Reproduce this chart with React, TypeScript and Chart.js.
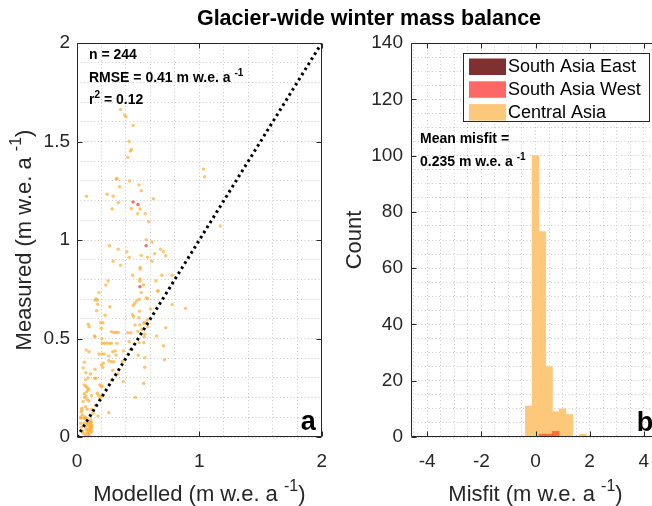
import { useEffect, useRef } from 'react';
import { Chart, registerables } from 'chart.js';

Chart.register(...registerables);

// Winter mass balance per glacier (m w.e. a^-1): modelled vs measured
const caModelled = [
  0.356, 0.39, 0.40, 0.458, 0.426, 0.444, 0.436, 0.415, 0.321, 0.327,
  0.428, 0.348, 0.506, 0.525, 0.078, 0.246, 0.295, 0.624, 0.337, 0.444,
  0.287, 0.516, 1.034, 1.042, 0.495, 0.557, 0.586, 1.17, 0.565, 0.613,
  0.265, 0.337, 0.683, 0.707, 0.635, 0.407, 0.725, 0.525, 0.426, 0.576,
  0.613, 0.295, 0.356, 0.516, 0.516, 0.693, 0.777, 0.455, 0.514, 0.514,
  0.254, 0.645, 0.235, 0.543, 0.525, 0.664, 0.659, 0.179, 0.158, 0.576,
  0.147, 0.166, 0.508, 0.487, 0.471, 0.565, 0.777, 0.886, 0.169, 0.268,
  0.46, 0.60, 0.161, 0.511, 0.23, 0.455, 0.463, 0.506, 0.552, 0.576,
  0.193, 0.211, 0.091, 0.099, 0.474, 0.514, 0.549, 0.578, 0.198, 0.725,
  0.281, 0.30, 0.319, 0.337, 0.415, 0.439, 0.498, 0.53, 0.554, 0.549,
  0.651, 0.142, 0.147, 0.203, 0.206, 0.225, 0.243, 0.265, 0.281, 0.327,
  0.426, 0.508, 0.546, 0.707, 0.075, 0.099, 0.179, 0.203, 0.222, 0.292,
  0.313, 0.378, 0.436, 0.259, 0.319, 0.50, 0.554, 0.715, 0.259, 0.279,
  0.30, 0.372, 0.211, 0.554, 0.147, 0.292, 0.072, 0.11, 0.335, 0.145,
  0.155, 0.281, 0.059, 0.072, 0.08, 0.094, 0.546, 0.206, 0.08, 0.091,
  0.062, 0.072, 0.118, 0.201, 0.476, 0.083, 0.096, 0.04, 0.035, 0.043,
  0.03, 0.07, 0.083, 0.064, 0.072, 0.083, 0.171, 0.15, 0.11, 0.11,
  0.11, 0.11, 0.11, 0.11, 0.118, 0.118, 0.118, 0.083, 0.083, 0.083,
  0.083, 0.03, 0.035, 0.046, 0.05, 0.002, 0.26, 0.378, 0.04, 0.054,
  0.067, 0.032, 0.059, 0.067, 0.075, 0.102, 0.102, 0.102, 0.102, 0.12,
  0.12, 0.05, 0.06, 0.09, 0.07, 0.12, 0.13, 0.05, 0.06, 0.20,
  0.215, 0.187, 0.20, 0.166, 0.174, 0.187, 0.09, 0.10, 0.095, 0.065,
];
const caMeasured = [
  1.663, 1.634, 1.626, 1.582, 1.50, 1.46, 1.452, 1.42, 1.311, 1.311,
  1.30, 1.27, 1.28, 1.25, 1.222, 1.232, 1.222, 1.21, 1.19, 1.16,
  1.157, 1.157, 1.36, 1.321, 1.133, 1.133, 1.093, 1.071, 1.002, 0.99,
  0.971, 0.953, 0.953, 0.94, 0.93, 0.94, 0.92, 0.922, 0.912, 0.912,
  0.892, 0.892, 0.872, 0.861, 0.853, 0.821, 0.821, 0.821, 0.802, 0.792,
  0.792, 0.792, 0.772, 0.772, 0.733, 0.741, 0.741, 0.733, 0.702, 0.702,
  0.695, 0.694, 0.699, 0.69, 0.679, 0.706, 0.672, 0.653, 0.674, 0.661,
  0.668, 0.65, 0.641, 0.638, 0.618, 0.621, 0.611, 0.606, 0.582, 0.595,
  0.58, 0.58, 0.572, 0.56, 0.569, 0.569, 0.577, 0.56, 0.552, 0.555,
  0.535, 0.531, 0.531, 0.531, 0.529, 0.529, 0.536, 0.547, 0.523, 0.509,
  0.513, 0.513, 0.509, 0.499, 0.476, 0.476, 0.476, 0.476, 0.476, 0.476,
  0.484, 0.479, 0.479, 0.463, 0.442, 0.433, 0.421, 0.421, 0.421, 0.433,
  0.437, 0.437, 0.445, 0.411, 0.416, 0.415, 0.403, 0.392, 0.387, 0.382,
  0.382, 0.384, 0.354, 0.354, 0.344, 0.339, 0.326, 0.32, 0.32, 0.298,
  0.298, 0.289, 0.264, 0.259, 0.252, 0.245, 0.273, 0.259, 0.23, 0.239,
  0.201, 0.208, 0.21, 0.208, 0.201, 0.191, 0.183, 0.146, 0.128, 0.112,
  0.10, 0.154, 0.141, 0.103, 0.096, 0.091, 0.107, 0.162, 0.086, 0.076,
  0.066, 0.056, 0.046, 0.036, 0.078, 0.061, 0.044, 0.071, 0.061, 0.04,
  0.02, 0.07, 0.05, 0.03, 0.02, 0.007, 0.123, 0.281, 0.137, 0.095,
  0.095, 0.095, 0.07, 0.052, 0.036, 0.07, 0.052, 0.036, 0.019, 0.052,
  0.027, 0.35, 0.38, 0.30, 0.29, 0.14, 0.12, 0.18, 0.22, 0.365,
  0.374, 0.264, 0.255, 0.222, 0.213, 0.201, 0.01, 0.005, 0.03, 0.01,
];
const sawModelled = [0.458, 0.498, 0.565, 0.514];
const sawMeasured = [1.193, 1.18, 0.971, 0.763];
const identityLine = [0, 2];

// Misfit histogram: bin centres (m w.e. a^-1) and counts per region
const misfitBins = [-0.25, 0, 0.25, 0.5, 0.75, 1, 1.25, 1.5, 1.75];
const caCounts = [11, 100, 73, 25, 9, 10, 8, 0, 1];
const sawBins = [0.25, 0.5, 0.75];
const sawCounts = [1, 1, 2];

// Axis ticks
const modelledTicks = [0, 1, 2];
const measuredTicks = [0, 0.5, 1, 1.5, 2];
const misfitTicks = [-4, -2, 0, 2, 4];
const countTicks = [0, 20, 40, 60, 80, 100, 120, 140];

const legendLabels = ['South Asia East', 'South Asia West', 'Central Asia'];
const legendColors = ['rgb(128,48,48)', 'rgb(255,102,102)', 'rgb(254,200,122)'];

const nGlaciers = 244;
const rmse = 0.41;
const r2 = 0.12;
const meanMisfit = 0.235;

const FONT = '"Liberation Sans", Arial, Helvetica, sans-serif';
const INK = '#262626';
const GRID = 'rgba(38,38,38,0.24)';

type Seg = { t: string; sup?: boolean };

function drawRich(
  ctx: CanvasRenderingContext2D,
  segs: Seg[],
  x: number,
  y: number,
  size: number,
  weight: string,
  align: 'left' | 'center',
  color: string,
) {
  const supSize = Math.round(size * 0.72);
  const fontOf = (s: Seg) => `${weight} ${s.sup ? supSize : size}px ${FONT}`;
  let total = 0;
  for (const s of segs) {
    ctx.font = fontOf(s);
    total += ctx.measureText(s.t).width;
  }
  let cx = align === 'center' ? x - total / 2 : x;
  ctx.fillStyle = color;
  ctx.textAlign = 'left';
  ctx.textBaseline = 'alphabetic';
  for (const s of segs) {
    ctx.font = fontOf(s);
    ctx.fillText(s.t, cx, s.sup ? y - size * 0.45 : y);
    cx += ctx.measureText(s.t).width;
  }
}

function drawFrame(chart: Chart, xMajor: number[], yMajor: number[]) {
  const { ctx, chartArea: a } = chart;
  const sx = chart.scales.x;
  const sy = chart.scales.y;
  const L = Math.round(a.left) + 0.5;
  const R = Math.round(a.right) - 0.5;
  const T = Math.round(a.top) + 0.5;
  const B = Math.round(a.bottom) - 0.5;
  const tick = 5;
  ctx.save();
  ctx.strokeStyle = INK;
  ctx.lineWidth = 1;
  ctx.beginPath();
  ctx.rect(L, T, R - L, B - T);
  for (const v of xMajor) {
    const px = Math.round(sx.getPixelForValue(v)) + 0.5;
    ctx.moveTo(px, B);
    ctx.lineTo(px, B - tick);
    ctx.moveTo(px, T);
    ctx.lineTo(px, T + tick);
  }
  for (const v of yMajor) {
    const py = Math.round(sy.getPixelForValue(v)) + 0.5;
    ctx.moveTo(L, py);
    ctx.lineTo(L + tick, py);
    ctx.moveTo(R, py);
    ctx.lineTo(R - tick, py);
  }
  ctx.stroke();
  ctx.restore();
}

function minorTicks(min: number, max: number, step: number) {
  const out: { value: number }[] = [];
  const n = Math.round((max - min) / step);
  for (let i = 0; i <= n; i++) out.push({ value: Math.round((min + i * step) * 1e9) / 1e9 });
  return out;
}

function majorLabel(majors: number[]) {
  return (v: number | string) => {
    const num = Number(v);
    const hit = majors.find((m) => Math.abs(m - num) < 1e-6);
    return hit === undefined ? '' : String(hit);
  };
}

const tickFont = { family: FONT, size: 19 };

const leftDecor = {
  id: 'leftDecor',
  afterDraw(chart: Chart) {
    const { ctx, chartArea: a } = chart;
    drawFrame(chart, modelledTicks, measuredTicks);
    ctx.save();
    const tx = a.left + 12;
    drawRich(ctx, [{ t: `n = ${nGlaciers}` }], tx, 59, 14, 'bold', 'left', '#000');
    drawRich(ctx, [{ t: `RMSE = ${rmse.toFixed(2)} m w.e. a ` }, { t: '-1', sup: true }], tx, 82, 14, 'bold', 'left', '#000');
    drawRich(ctx, [{ t: 'r' }, { t: '2', sup: true }, { t: ` = ${r2.toFixed(2)}` }], tx, 104, 14, 'bold', 'left', '#000');
    drawRich(ctx, [{ t: 'a' }], a.right - 21, 430, 27, 'bold', 'left', '#000');
    drawRich(
      ctx,
      [{ t: 'Modelled (m w.e. a ' }, { t: '-1', sup: true }, { t: ')' }],
      (a.left + a.right) / 2, 501, 22, 'normal', 'center', INK,
    );
    ctx.translate(31, (a.top + a.bottom) / 2);
    ctx.rotate(-Math.PI / 2);
    drawRich(
      ctx,
      [{ t: 'Measured (m w.e. a ' }, { t: '-1', sup: true }, { t: ')' }],
      0, 0, 22, 'normal', 'center', INK,
    );
    ctx.restore();
  },
};

const rightDecor = {
  id: 'rightDecor',
  afterDraw(chart: Chart) {
    const { ctx, chartArea: a } = chart;
    drawFrame(chart, misfitTicks, countTicks);
    ctx.save();
    // legend
    const bx = a.left + 52;
    const by = a.top + 10;
    ctx.fillStyle = '#fff';
    ctx.fillRect(bx, by, 186, 68);
    ctx.strokeStyle = INK;
    ctx.lineWidth = 1;
    ctx.strokeRect(bx + 0.5, by + 0.5, 186, 68);
    legendLabels.forEach((label, i) => {
      const cy = by + 13.5 + i * 22.8;
      ctx.fillStyle = legendColors[i];
      ctx.fillRect(bx + 6, cy - 8, 37, 16.5);
      ctx.fillStyle = '#000';
      ctx.font = `18px ${FONT}`;
      ctx.textAlign = 'left';
      ctx.textBaseline = 'middle';
      ctx.fillText(label, bx + 45, cy + 1);
    });
    const tx = a.left + 9;
    drawRich(ctx, [{ t: 'Mean misfit =' }], tx, 143, 14, 'bold', 'left', '#000');
    drawRich(ctx, [{ t: `${meanMisfit.toFixed(3)} m w.e. a ` }, { t: '-1', sup: true }], tx, 166, 14, 'bold', 'left', '#000');
    const sx = chart.scales.x;
    drawRich(ctx, [{ t: 'b' }], sx.getPixelForValue(3.74), 431, 27, 'bold', 'left', '#000');
    drawRich(
      ctx,
      [{ t: 'Misfit (m w.e. a ' }, { t: '-1', sup: true }, { t: ')' }],
      sx.getPixelForValue(0), 501, 22, 'normal', 'center', INK,
    );
    ctx.translate(21, (a.top + a.bottom) / 2);
    ctx.rotate(-Math.PI / 2);
    drawRich(ctx, [{ t: 'Count' }], 0, 0, 22, 'normal', 'center', INK);
    ctx.restore();
  },
};

export default function App() {
  const leftRef = useRef<HTMLCanvasElement>(null);
  const rightRef = useRef<HTMLCanvasElement>(null);

  useEffect(() => {
    const gridBase = { color: GRID, lineWidth: 1, drawTicks: false };
    const borderBase = { display: false, dash: [1, 2.5] };

    const left = new Chart(leftRef.current!, {
      type: 'scatter',
      data: {
        datasets: [
          {
            type: 'line',
            label: '1:1',
            data: identityLine.map((v) => ({ x: v, y: v })),
            borderColor: '#000',
            borderWidth: 3,
            borderDash: [2.6, 3.4],
            pointRadius: 0,
            fill: false,
            order: 0,
          },
          {
            label: 'South Asia West',
            data: sawModelled.map((x, i) => ({ x, y: sawMeasured[i] })),
            backgroundColor: 'rgba(245,70,70,0.8)',
            borderWidth: 0,
            pointRadius: 1.7,
            order: 1,
          },
          {
            label: 'Central Asia',
            data: caModelled.map((x, i) => ({ x, y: caMeasured[i] })),
            backgroundColor: 'rgba(255,172,50,0.7)',
            borderWidth: 0,
            pointRadius: 1.7,
            order: 2,
          },
        ],
      } as any,
      options: {
        responsive: false,
        animation: false,
        devicePixelRatio: 1,
        layout: { padding: { top: 43, right: 14, left: 0, bottom: 0 } },
        plugins: { legend: { display: false }, tooltip: { enabled: false } },
        scales: {
          x: {
            type: 'linear',
            min: 0,
            max: 2,
            afterFit: (s: any) => { s.height = 69; },
            afterBuildTicks: (s: any) => { s.ticks = minorTicks(0, 2, 0.2); },
            ticks: { callback: majorLabel(modelledTicks), font: tickFont, color: INK, padding: 13, maxRotation: 0, autoSkip: false },
            grid: gridBase,
            border: borderBase,
          },
          y: {
            type: 'linear',
            min: 0,
            max: 2,
            afterFit: (s: any) => { s.width = 77; },
            afterBuildTicks: (s: any) => { s.ticks = minorTicks(0, 2, 0.1); },
            ticks: { callback: majorLabel(measuredTicks), font: tickFont, color: INK, padding: 7, autoSkip: false },
            grid: gridBase,
            border: borderBase,
          },
        },
      } as any,
      plugins: [leftDecor as any],
    });

    const right = new Chart(rightRef.current!, {
      type: 'bar',
      data: {
        datasets: [
          {
            label: 'South Asia West',
            data: sawBins.map((x, i) => ({ x, y: sawCounts[i] })),
            backgroundColor: 'rgba(255,40,0,0.55)',
            borderWidth: 0,
            grouped: false,
            barPercentage: 1,
            categoryPercentage: 1,
            order: 0,
          },
          {
            label: 'Central Asia',
            data: misfitBins.map((x, i) => ({ x, y: caCounts[i] })),
            backgroundColor: 'rgb(254,200,122)',
            borderWidth: 0,
            grouped: false,
            barPercentage: 1,
            categoryPercentage: 1,
            order: 1,
          },
        ],
      } as any,
      options: {
        responsive: false,
        animation: false,
        devicePixelRatio: 1,
        layout: { padding: { top: 43, right: 20, left: 0, bottom: 0 } },
        plugins: { legend: { display: false }, tooltip: { enabled: false } },
        scales: {
          x: {
            type: 'linear',
            min: -4.6,
            max: 4.6,
            offset: false,
            afterFit: (s: any) => { s.height = 69; },
            afterBuildTicks: (s: any) => { s.ticks = minorTicks(-4.5, 4.5, 0.5); },
            ticks: { callback: majorLabel(misfitTicks), font: tickFont, color: INK, padding: 13, maxRotation: 0, autoSkip: false },
            grid: { ...gridBase, offset: false },
            border: borderBase,
          },
          y: {
            type: 'linear',
            min: 0,
            max: 140,
            afterFit: (s: any) => { s.width = 71; },
            afterBuildTicks: (s: any) => { s.ticks = minorTicks(0, 140, 5); },
            ticks: { callback: majorLabel(countTicks), font: tickFont, color: INK, padding: 8, autoSkip: false },
            grid: gridBase,
            border: borderBase,
          },
        },
      } as any,
      plugins: [rightDecor as any],
    });

    return () => {
      left.destroy();
      right.destroy();
    };
  }, []);

  return (
    <div
      style={{
        position: 'fixed',
        left: 0,
        top: 0,
        width: 652,
        height: 506,
        overflow: 'hidden',
        background: '#fff',
      }}
    >
      <canvas ref={leftRef} width={340} height={506} style={{ position: 'absolute', left: 0, top: 0 }} />
      <canvas ref={rightRef} width={340} height={506} style={{ position: 'absolute', left: 340, top: 0 }} />
      <div
        style={{
          position: 'absolute',
          left: 369,
          top: 8,
          transform: 'translateX(-50%)',
          whiteSpace: 'nowrap',
          font: `bold 21.5px ${FONT}`,
          lineHeight: '21px',
          color: '#000',
        }}
      >
        Glacier-wide winter mass balance
      </div>
    </div>
  );
}
